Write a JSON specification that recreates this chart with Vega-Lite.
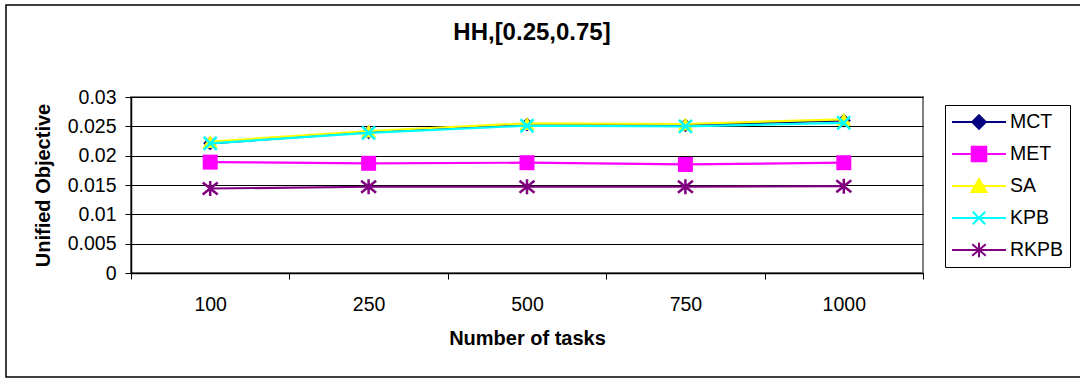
{
  "$schema": "https://vega.github.io/schema/vega-lite/v6.json",
  "width": 792,
  "height": 176,
  "autosize": {"type": "none"},
  "padding": {"left": 131, "top": 97, "right": 157, "bottom": 106},
  "background": "white",
  "title": {"text": "HH,[0.25,0.75]", "font": "Liberation Sans", "fontSize": 24, "fontWeight": "bold", "color": "#000", "anchor": "middle", "baseline": "alphabetic", "offset": -59, "dx": 5},
  "config": {
    "view": {"stroke": "#808080", "strokeWidth": 2, "fill": "white"}
  },
  "data": {"values": [
    {"n": "100", "s": "MCT", "v": 0.0221},
    {"n": "250", "s": "MCT", "v": 0.0240},
    {"n": "500", "s": "MCT", "v": 0.0253},
    {"n": "750", "s": "MCT", "v": 0.0252},
    {"n": "1000", "s": "MCT", "v": 0.0260},
    {"n": "100", "s": "MET", "v": 0.0189},
    {"n": "250", "s": "MET", "v": 0.0187},
    {"n": "500", "s": "MET", "v": 0.0188},
    {"n": "750", "s": "MET", "v": 0.0185},
    {"n": "1000", "s": "MET", "v": 0.0188},
    {"n": "100", "s": "SA", "v": 0.0224},
    {"n": "250", "s": "SA", "v": 0.0242},
    {"n": "500", "s": "SA", "v": 0.0255},
    {"n": "750", "s": "SA", "v": 0.0254},
    {"n": "1000", "s": "SA", "v": 0.0262},
    {"n": "100", "s": "KPB", "v": 0.0221},
    {"n": "250", "s": "KPB", "v": 0.0239},
    {"n": "500", "s": "KPB", "v": 0.0251},
    {"n": "750", "s": "KPB", "v": 0.0250},
    {"n": "1000", "s": "KPB", "v": 0.0256},
    {"n": "100", "s": "RKPB", "v": 0.0144},
    {"n": "250", "s": "RKPB", "v": 0.0147},
    {"n": "500", "s": "RKPB", "v": 0.0147},
    {"n": "750", "s": "RKPB", "v": 0.0147},
    {"n": "1000", "s": "RKPB", "v": 0.0148}
  ]},
  "encoding": {
    "x": {
      "field": "n", "type": "ordinal", "sort": ["100", "250", "500", "750", "1000"],
      "scale": {"type": "band", "paddingInner": 0, "paddingOuter": 0},
      "axis": {
        "title": "Number of tasks", "labelAngle": 0, "tickBand": "extent", "grid": false,
        "domainColor": "#000", "domainWidth": 1.5, "tickColor": "#000", "tickSize": 6,
        "labelFont": "Liberation Sans", "labelFontSize": 19.5, "labelColor": "#000",
        "labelBaseline": "alphabetic", "labelPadding": 31,
        "titleFont": "Liberation Sans", "titleFontSize": 20, "titleFontWeight": "bold", "titleColor": "#000",
        "titleBaseline": "alphabetic", "titleY": 71
      }
    },
    "y": {
      "field": "v", "type": "quantitative",
      "scale": {"domain": [0, 0.03], "nice": false},
      "axis": {
        "title": "Unified Objective", "values": [0, 0.005, 0.01, 0.015, 0.02, 0.025, 0.03], "format": "~g",
        "grid": true, "gridColor": "#000", "gridWidth": 1,
        "domainColor": "#000", "domainWidth": 1.5, "tickColor": "#000", "tickSize": 6,
        "labelFont": "Liberation Sans", "labelFontSize": 19.5, "labelColor": "#000", "labelPadding": 9,
        "titleFont": "Liberation Sans", "titleFontSize": 20, "titleFontWeight": "bold", "titleColor": "#000",
        "titleBaseline": "alphabetic", "titleAngle": 270, "titleAlign": "center", "titleX": -82, "titleY": 88
      }
    }
  },
  "layer": [
    {
      "transform": [{"filter": "datum.s === 'MCT'"}],
      "mark": {"type": "line", "color": "#000080", "strokeWidth": 2.2,
        "point": {"filled": true, "shape": "diamond", "size": 196, "color": "#000080"}}
    },
    {
      "transform": [{"filter": "datum.s === 'MET'"}],
      "mark": {"type": "line", "color": "#FF00FF", "strokeWidth": 2.2,
        "point": {"filled": true, "shape": "square", "size": 225, "color": "#FF00FF"}}
    },
    {
      "transform": [{"filter": "datum.s === 'SA'"}],
      "mark": {"type": "line", "color": "#FFFF00", "strokeWidth": 2.2,
        "point": {"filled": true, "shape": "triangle-up", "size": 225, "color": "#FFFF00"}}
    },
    {
      "transform": [{"filter": "datum.s === 'KPB'"}],
      "mark": {"type": "line", "color": "#00FFFF", "strokeWidth": 2.2,
        "point": {"filled": false, "shape": "M-1,-1L1,1M1,-1L-1,1", "size": 169, "strokeWidth": 2.5, "color": "#00FFFF"}}
    },
    {
      "transform": [{"filter": "datum.s === 'RKPB'"}],
      "mark": {"type": "line", "color": "#800080", "strokeWidth": 2.2,
        "point": {"filled": false, "shape": "M-1,-0.8L1,0.8M1,-0.8L-1,0.8M0,-1L0,1", "size": 225, "strokeWidth": 2.5, "color": "#800080"}}
    },
    {
      "mark": {"type": "point", "filled": true, "opacity": 0, "size": 2916, "strokeWidth": 2},
      "encoding": {
        "color": {"field": "s", "type": "nominal",
          "scale": {"domain": ["MCT", "MET", "SA", "KPB", "RKPB"], "range": ["#000080", "#FF00FF", "#FFFF00", "#00FFFF", "#800080"]},
          "legend": {"title": null, "orient": "none", "legendX": 814, "legendY": 8, "padding": 6, "strokeColor": "#000", "fillColor": "#fff",
            "labelFont": "Liberation Sans", "labelFontSize": 19.5, "labelColor": "#000", "labelOffset": 3,
            "symbolSize": 2916, "symbolStrokeWidth": 2, "symbolOpacity": 1, "clipHeight": 22, "rowPadding": 10}},
        "stroke": {"field": "s", "type": "nominal",
          "scale": {"domain": ["MCT", "MET", "SA", "KPB", "RKPB"], "range": ["#000080", "#FF00FF", "#FFFF00", "#00FFFF", "#800080"]},
          "legend": {"title": null, "orient": "none", "legendX": 814, "legendY": 8, "padding": 6, "strokeColor": "#000", "fillColor": "#fff",
            "labelFont": "Liberation Sans", "labelFontSize": 19.5, "labelColor": "#000", "labelOffset": 3,
            "symbolSize": 2916, "symbolStrokeWidth": 2, "symbolOpacity": 1, "clipHeight": 22, "rowPadding": 10}},
        "shape": {"field": "s", "type": "nominal",
          "scale": {"domain": ["MCT", "MET", "SA", "KPB", "RKPB"], "range": [
            "M-1,0L1,0M0,-0.25L0.25,0L0,0.25L-0.25,0Z",
            "M-1,0L1,0M-0.27,-0.27L0.27,-0.27L0.27,0.27L-0.27,0.27Z",
            "M-1,0L1,0M0,-0.26L0.28,0.22L-0.28,0.22Z",
            "M-1,0L1,0M-0.23,-0.23L0.23,0.23M-0.23,0.23L0.23,-0.23",
            "M-1,0L1,0M-0.25,-0.21L0.25,0.21M-0.25,0.21L0.25,-0.21M0,-0.27L0,0.27"
          ]},
          "legend": {"title": null, "orient": "none", "legendX": 814, "legendY": 8, "padding": 6, "strokeColor": "#000", "fillColor": "#fff",
            "labelFont": "Liberation Sans", "labelFontSize": 19.5, "labelColor": "#000", "labelOffset": 3,
            "symbolSize": 2916, "symbolStrokeWidth": 2, "symbolOpacity": 1, "clipHeight": 22, "rowPadding": 10}}
      }
    },
    {
      "mark": {"type": "point", "filled": true, "opacity": 0},
      "encoding": {
        "fill": {"field": "v", "type": "quantitative",
          "scale": {"range": ["transparent", "transparent"]},
          "legend": {"title": null, "orient": "none", "legendX": -125, "legendY": -92, "direction": "horizontal",
            "gradientLength": 1100, "gradientThickness": 372, "gradientStrokeColor": "#000", "gradientStrokeWidth": 1.5,
            "values": [0.02], "labelExpr": "''", "labelOpacity": 0, "padding": 0}}
      }
    }
  ]
}
